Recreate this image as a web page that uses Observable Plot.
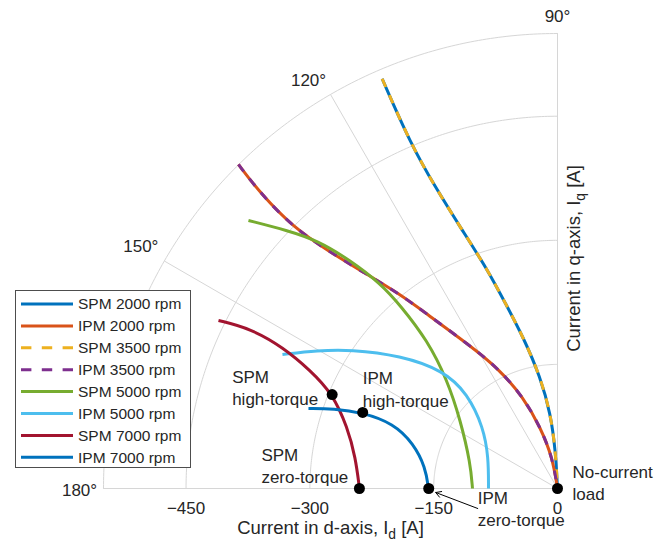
<!DOCTYPE html>
<html><head><meta charset="utf-8">
<script src="https://cdn.jsdelivr.net/npm/d3@7"></script>
<script src="https://cdn.jsdelivr.net/npm/@observablehq/plot@0.6"></script>
<style>
html,body{margin:0;padding:0;background:#fff;}
#chart{width:667px;height:558px;}
</style></head><body><div id="chart"></div>
<script>
// ---- axes / ticks ----
const RMAX = 550;
const radialCircles = [150, 300, 450, 550];
const thetaTicks = [90, 120, 150, 180];
const thetaLabels = ["90°", "120°", "150°", "180°"];
const dTicks = [-450, -300, -150, 0];
const dTickLabels = ["\u2212450", "\u2212300", "\u2212150", "0"];

// ---- series (Id, Iq in A) ----
const seriesNames = ["SPM 2000 rpm","IPM 2000 rpm","SPM 3500 rpm","IPM 3500 rpm","SPM 5000 rpm","IPM 5000 rpm","SPM 7000 rpm","IPM 7000 rpm"];
const seriesColors = ["#0072BD","#D95319","#EDB120","#7E2F8E","#77AC30","#4DBEEE","#A2142F","#0072BD"];
const seriesDashed = [false,false,true,true,false,false,false,false];

const spm2000_id = [-212.4,-178.1,-147.8,-117.5,-84.8,-63.0,-41.2,-20.6,-8.5,-2.4,0];
const spm2000_iq = [495.3,417.0,363.9,315.5,264.7,223.6,182.5,134.2,90.7,45.9,0];
const ipm2000_id = [-386.5,-359.8,-319.8,-278.6,-238.7,-190.2,-157.5,-107.8,-71.5,-41.2,-20.6,-6.1,0];
const ipm2000_iq = [391.7,356.6,315.5,287.7,263.5,234.5,210.3,174.1,145.1,110.0,73.7,37.5,0];
const spm3500_id = [-212.4,-178.1,-147.8,-117.5,-84.8,-63.0,-41.2,-20.6,-8.5,-2.4,0];
const spm3500_iq = [495.3,417.0,363.9,315.5,264.7,223.6,182.5,134.2,90.7,45.9,0];
const ipm3500_id = [-386.5,-359.8,-319.8,-278.6,-238.7,-190.2,-157.5,-107.8,-71.5,-41.2,-20.6,-6.1,0];
const ipm3500_iq = [391.7,356.6,315.5,287.7,263.5,234.5,210.3,174.1,145.1,110.0,73.7,37.5,0];
const spm5000_id = [-374.4,-327.1,-290.8,-250.8,-214.4,-190.2,-157.5,-133.3,-117.5,-105.4,-103.0];
const spm5000_iq = [324.0,311.9,299.8,275.6,247.8,221.2,178.9,130.6,82.2,30.2,0];
const ipm5000_id = [-333.2,-290.8,-250.8,-190.2,-138.1,-109.0,-89.7,-83.6,-83.6];
const ipm5000_iq = [162.0,166.8,168.0,160.8,142.6,114.8,73.7,37.5,0];
const spm7000_id = [-410.7,-371.9,-332.0,-299.2,-272.6,-254.4,-244.7,-239.9];
const spm7000_iq = [203.1,193.4,170.4,142.6,114.8,73.7,37.5,0];
const ipm7000_id = [-301.7,-271.4,-236.2,-198.7,-174.5,-159.9,-156.3];
const ipm7000_iq = [96.7,96.7,91.9,78.6,54.4,25.4,0];

const seriesId = [spm2000_id, ipm2000_id, spm3500_id, ipm3500_id, spm5000_id, ipm5000_id, spm7000_id, ipm7000_id];
const seriesIq = [spm2000_iq, ipm2000_iq, spm3500_iq, ipm3500_iq, spm5000_iq, ipm5000_iq, spm7000_iq, ipm7000_iq];

// ---- key operating points ----
const keyLabels = ["SPM\nhigh-torque","IPM\nhigh-torque","SPM\nzero-torque","IPM\nzero-torque","No-current\nload"];
const keyId = [-273, -236, -240, -156, 0];
const keyIq = [113.6, 92, 0, 0, 0];

// ---- styling ----
const FONT = "Liberation Sans, Arial, Helvetica, sans-serif";
const TXT = "#262626";
const GRID = "#d6d6d6";
const thetaLabelOffsets = [[0,-17],[-22,-14],[-23.5,-14],[-24,2]];
const keyLabelOffsets = [[-100,-8],[0,-24],[-98,-24],[49,19.5],[15,-7]];

const rad = t => t * Math.PI / 180;
const thetaSteps = d3.range(90, 180.01, 0.5);
const arcRows = radialCircles.flatMap(r => thetaSteps.map(t => ({r, x: r*Math.cos(rad(t)), y: r*Math.sin(rad(t))})));

const marks = [];
marks.push(Plot.line(arcRows, {x:"x", y:"y", z:"r", stroke: GRID, strokeWidth: 1}));
marks.push(Plot.link(thetaTicks, {x1: 0, y1: 0, x2: t => RMAX*Math.cos(rad(t)), y2: t => RMAX*Math.sin(rad(t)), stroke: GRID, strokeWidth: 1}));

seriesNames.forEach((name, i) => {
  const rows = seriesId[i].map((v, j) => ({id: v, iq: seriesIq[i][j]}));
  marks.push(Plot.line(rows, {x:"id", y:"iq", stroke: seriesColors[i], strokeWidth: 3, curve: "basis",
    strokeLinecap: "butt", strokeDasharray: seriesDashed[i] ? "9,9" : null}));
});

// tick labels
marks.push(Plot.text(dTicks, {x: d => d, y: 0, text: (d, i) => dTickLabels[i], dy: 20, fontSize: 17, fill: TXT, fontFamily: FONT}));
thetaTicks.forEach((t, i) => {
  marks.push(Plot.text([t], {x: d => RMAX*Math.cos(rad(d)), y: d => RMAX*Math.sin(rad(d)), text: () => thetaLabels[i],
    dx: thetaLabelOffsets[i][0], dy: thetaLabelOffsets[i][1], fontSize: 17, fill: TXT, fontFamily: FONT}));
});

// axis labels
marks.push(Plot.text(["Current in d-axis, I_d [A]"], {x: -275, y: 0, text: d => d, dy: 40, fontSize: 18.5, fill: TXT, fontFamily: FONT}));
marks.push(Plot.text(["Current in q-axis, I_q [A]"], {x: 0, y: 278, text: d => d, dx: 17, rotate: -90, fontSize: 18.5, fill: TXT, fontFamily: FONT}));

// arrow to IPM zero-torque point
const kx = RMAX / 454, ky = RMAX / 455;
const az = 3;
marks.push(Plot.arrow([{x1: keyId[az] + 49*kx, y1: keyIq[az] - 20*ky, x2: keyId[az] + 7*kx, y2: keyIq[az] - 4*ky}],
  {x1:"x1", y1:"y1", x2:"x2", y2:"y2", stroke: "black", strokeWidth: 1, headLength: 9}));

// key points
const keyRows = keyId.map((v, i) => ({id: v, iq: keyIq[i]}));
marks.push(Plot.dot(keyRows, {x:"id", y:"iq", r: 5.5, fill: "black"}));
keyLabels.forEach((lab, i) => {
  marks.push(Plot.text([keyRows[i]], {x:"id", y:"iq", text: () => lab, textAnchor: "start", lineHeight: 1.3,
    dx: keyLabelOffsets[i][0], dy: keyLabelOffsets[i][1], fontSize: 17, fill: TXT, fontFamily: FONT}));
});

const plot = Plot.plot({
  width: 667, height: 558,
  marginLeft: 103, marginRight: 110, marginTop: 33, marginBottom: 70,
  x: {domain: [-RMAX, 0], axis: null},
  y: {domain: [0, RMAX], axis: null},
  style: {background: "white", fontFamily: FONT, overflow: "visible"},
  marks
});

const svg = d3.select(plot);
// subscripts in axis labels
svg.selectAll("text").each(function() {
  const t = this.textContent;
  const m = t.match(/^(.*), I_(\w) (\[A\])$/);
  if (!m) return;
  const el = d3.select(this);
  el.text(null);
  el.append("tspan").text(m[1] + ", I");
  el.append("tspan").attr("dy", "0.35em").attr("font-size", "75%").text(m[2]);
  el.append("tspan").attr("dy", "-0.26em").text(" " + m[3]);
});

// legend
const lg = svg.append("g").attr("font-family", FONT).attr("font-size", 15.5).attr("text-anchor", "start");
lg.append("rect").attr("x", 15.5).attr("y", 290.5).attr("width", 175).attr("height", 177)
  .attr("fill", "white").attr("stroke", "#4d4d4d").attr("stroke-width", 1);
seriesNames.forEach((name, i) => {
  const y = 304 + i * 21.9;
  lg.append("line").attr("x1", 21).attr("x2", 73).attr("y1", y).attr("y2", y)
    .attr("stroke", seriesColors[i]).attr("stroke-width", 3)
    .attr("stroke-dasharray", seriesDashed[i] ? "10.4,10.4" : null);
  lg.append("text").attr("x", 78).attr("y", y).attr("dy", "0.35em").attr("fill", TXT)
    .attr("text-anchor", "start").text(name);
});

document.getElementById("chart").appendChild(plot);
</script></body></html>
